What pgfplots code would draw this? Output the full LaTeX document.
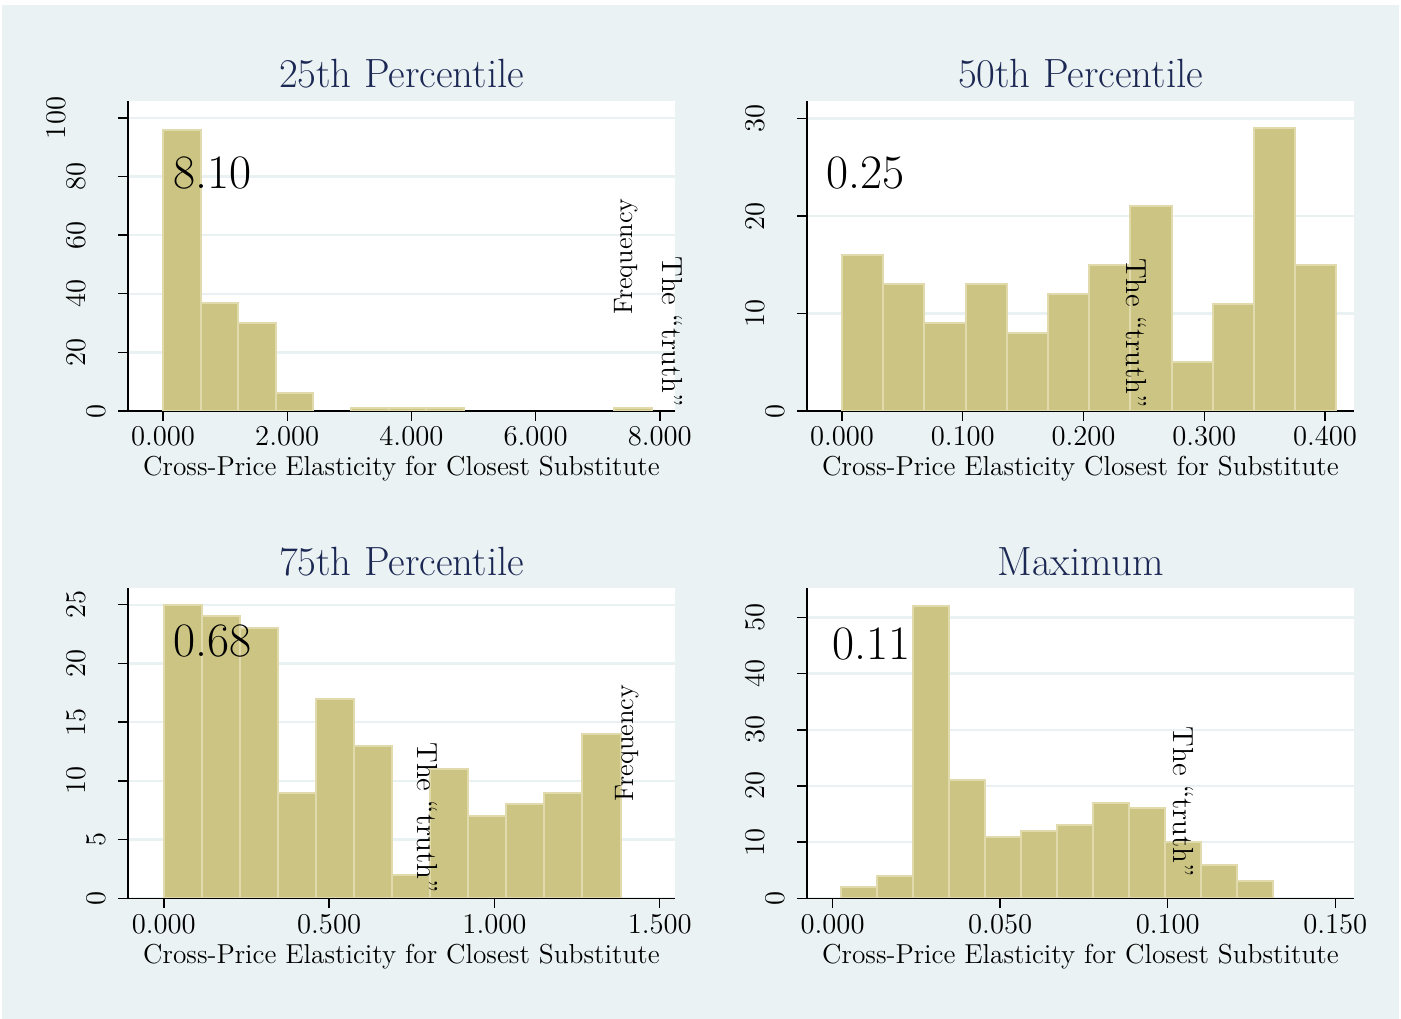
\documentclass[border=0pt]{standalone}
\usepackage{pgfplots}
\pgfplotsset{compat=1.18}

\definecolor{bgc}{RGB}{234,242,243}
\definecolor{gridc}{RGB}{234,241,242}
\definecolor{barc}{RGB}{204,196,130}
\definecolor{bare}{RGB}{224,218,172}
\definecolor{titc}{RGB}{28,40,84}

% rotated y tick label, pushed away from the axis by its length
\newcommand\yl[2]{\raisebox{0pt}[\height][\dimexpr 6bp+10bp*#1\relax]{#2}}
\newcommand\fs[1]{\fontsize{#1}{#1}\selectfont}

\pgfplotsset{
  hist/.style={
    scale only axis, width=273.5bp, height=155bp, anchor=south west,
    axis x line*=bottom, axis y line*=left,
    tick align=outside, major tick length=5bp,
    axis line style={black, line width=0.7bp},
    tick style={black, line width=0.7bp},
    axis background/.style={fill=white},
    ymajorgrids, grid style={draw=gridc, line width=1.2bp},
    ymin=0, clip=false,
    every tick label/.append style={font=\fs{14.3bp}},
    xticklabel style={anchor=base, inner sep=0pt, yshift=-12.5bp,
      /pgf/number format/.cd, fixed, fixed zerofill, precision=3},
    yticklabel style={rotate=90, anchor=south, inner sep=0pt},
    every axis title shift=0pt,
    title style={at={(0.5,1)}, anchor=base, yshift=6.5bp, font=\fs{20.4bp}, text=titc},
    xlabel style={at={(axis description cs:0.5,0)}, anchor=base, yshift=-32.5bp, font=\fs{13.7bp}},
  },
  bars/.style={ybar interval, fill=barc, draw=bare, line width=1bp},
  baseline/.style={black, line width=0.7bp},
}

\begin{document}
\begin{tikzpicture}
\fill[white] (0,0) rectangle (700.5bp,509.5bp);
\fill[bgc] (1bp,0) rectangle (699.5bp,507bp);

% 25th percentile
\begin{axis}[hist, at={(64bp,304bp)},
  title={25th Percentile},
  xlabel={Cross-Price Elasticity for Closest Substitute},
  xmin=-0.564, xmax=8.245, ymax=105.8,
  xtick={0,2,4,6,8},
  ytick={0,20,40,60,80,100},
  yticklabels={\yl{0}{0},\yl{1}{20},\yl{1}{40},\yl{1}{60},\yl{1}{80},\yl{2}{100}}]
\addplot[bars] coordinates {(0,96) (0.6055,37) (1.211,30) (1.8165,6) (2.422,6)};
\addplot[bars] coordinates {(3.0275,1) (3.633,1) (4.2385,1) (4.844,1)};
\addplot[bars] coordinates {(7.266,1) (7.8715,1)};
\draw[baseline] (rel axis cs:0,0) -- (rel axis cs:1,0);
\end{axis}

% 50th percentile
\begin{axis}[hist, at={(403.5bp,304bp)},
  title={50th Percentile},
  xlabel={Cross-Price Elasticity Closest for Substitute},
  xmin=-0.029, xmax=0.424, ymax=31.8,
  xtick={0,0.1,0.2,0.3,0.4},
  ytick={0,10,20,30},
  yticklabels={\yl{0}{0},\yl{1}{10},\yl{1}{20},\yl{1}{30}}]
\addplot[bars] coordinates {
  (0,16) (0.03412,13) (0.06824,9) (0.10236,13) (0.13648,8) (0.1706,12)
  (0.20472,15) (0.23884,21) (0.27296,5) (0.30708,11) (0.3412,29) (0.37532,15)
  (0.40944,15)};
\draw[baseline] (rel axis cs:0,0) -- (rel axis cs:1,0);
\end{axis}

% 75th percentile
\begin{axis}[hist, at={(64bp,60.35bp)},
  title={75th Percentile},
  xlabel={Cross-Price Elasticity for Closest Substitute},
  xmin=-0.1083, xmax=1.546, ymax=26.4,
  xtick={0,0.5,1,1.5},
  ytick={0,5,10,15,20,25},
  yticklabels={\yl{0}{0},\yl{0}{5},\yl{1}{10},\yl{1}{15},\yl{1}{20},\yl{1}{25}}]
\addplot[bars] coordinates {
  (0,25) (0.1151,24) (0.2302,23) (0.3453,9) (0.4604,17) (0.5755,13)
  (0.6906,2) (0.8057,11) (0.9208,7) (1.0359,8) (1.151,9) (1.2661,14)
  (1.3812,14)};
\draw[baseline] (rel axis cs:0,0) -- (rel axis cs:1,0);
\end{axis}

% maximum
\begin{axis}[hist, at={(403.5bp,60.35bp)},
  title={Maximum},
  xlabel={Cross-Price Elasticity for Closest Substitute},
  xmin=-0.00764, xmax=0.15558, ymax=55.2,
  xtick={0,0.05,0.1,0.15},
  ytick={0,10,20,30,40,50},
  yticklabels={\yl{0}{0},\yl{1}{10},\yl{1}{20},\yl{1}{30},\yl{1}{40},\yl{1}{50}}]
\addplot[bars] coordinates {
  (0.00239,2) (0.013137,4) (0.023884,52) (0.034631,21) (0.045378,11) (0.056125,12)
  (0.066872,13) (0.077619,17) (0.088366,16) (0.099113,10) (0.10986,6) (0.120607,3)
  (0.131354,3)};
\draw[baseline] (rel axis cs:0,0) -- (rel axis cs:1,0);
\end{axis}

% labels inside the panels
\begin{scope}[every node/.style={inner sep=0pt}]
\node[anchor=base west, font=\fs{24bp}] at (86.5bp,415bp) {8.10};
\node[anchor=base west, font=\fs{24bp}] at (413bp,415.35bp) {0.25};
\node[anchor=base west, font=\fs{24bp}] at (86.6bp,181.15bp) {0.68};
\node[anchor=base west, font=\fs{24bp}] at (415.85bp,179.85bp) {0.11};
\node[rotate=-90, font=\fs{14.5bp}] at (336bp,343.75bp) {The ``truth''};
\node[rotate=-90, font=\fs{14.5bp}] at (568bp,343bp) {The ``truth''};
\node[rotate=-90, font=\fs{14.5bp}] at (213.75bp,100.75bp) {The ``truth''};
\node[rotate=-90, font=\fs{14.5bp}] at (591.5bp,108.65bp) {The ``truth''};
\node[rotate=90, font=\fs{13.3bp}] at (313bp,381.25bp) {Frequency};
\node[rotate=90, font=\fs{13.3bp}] at (313.5bp,138bp) {Frequency};
\end{scope}
\end{tikzpicture}
\end{document}
